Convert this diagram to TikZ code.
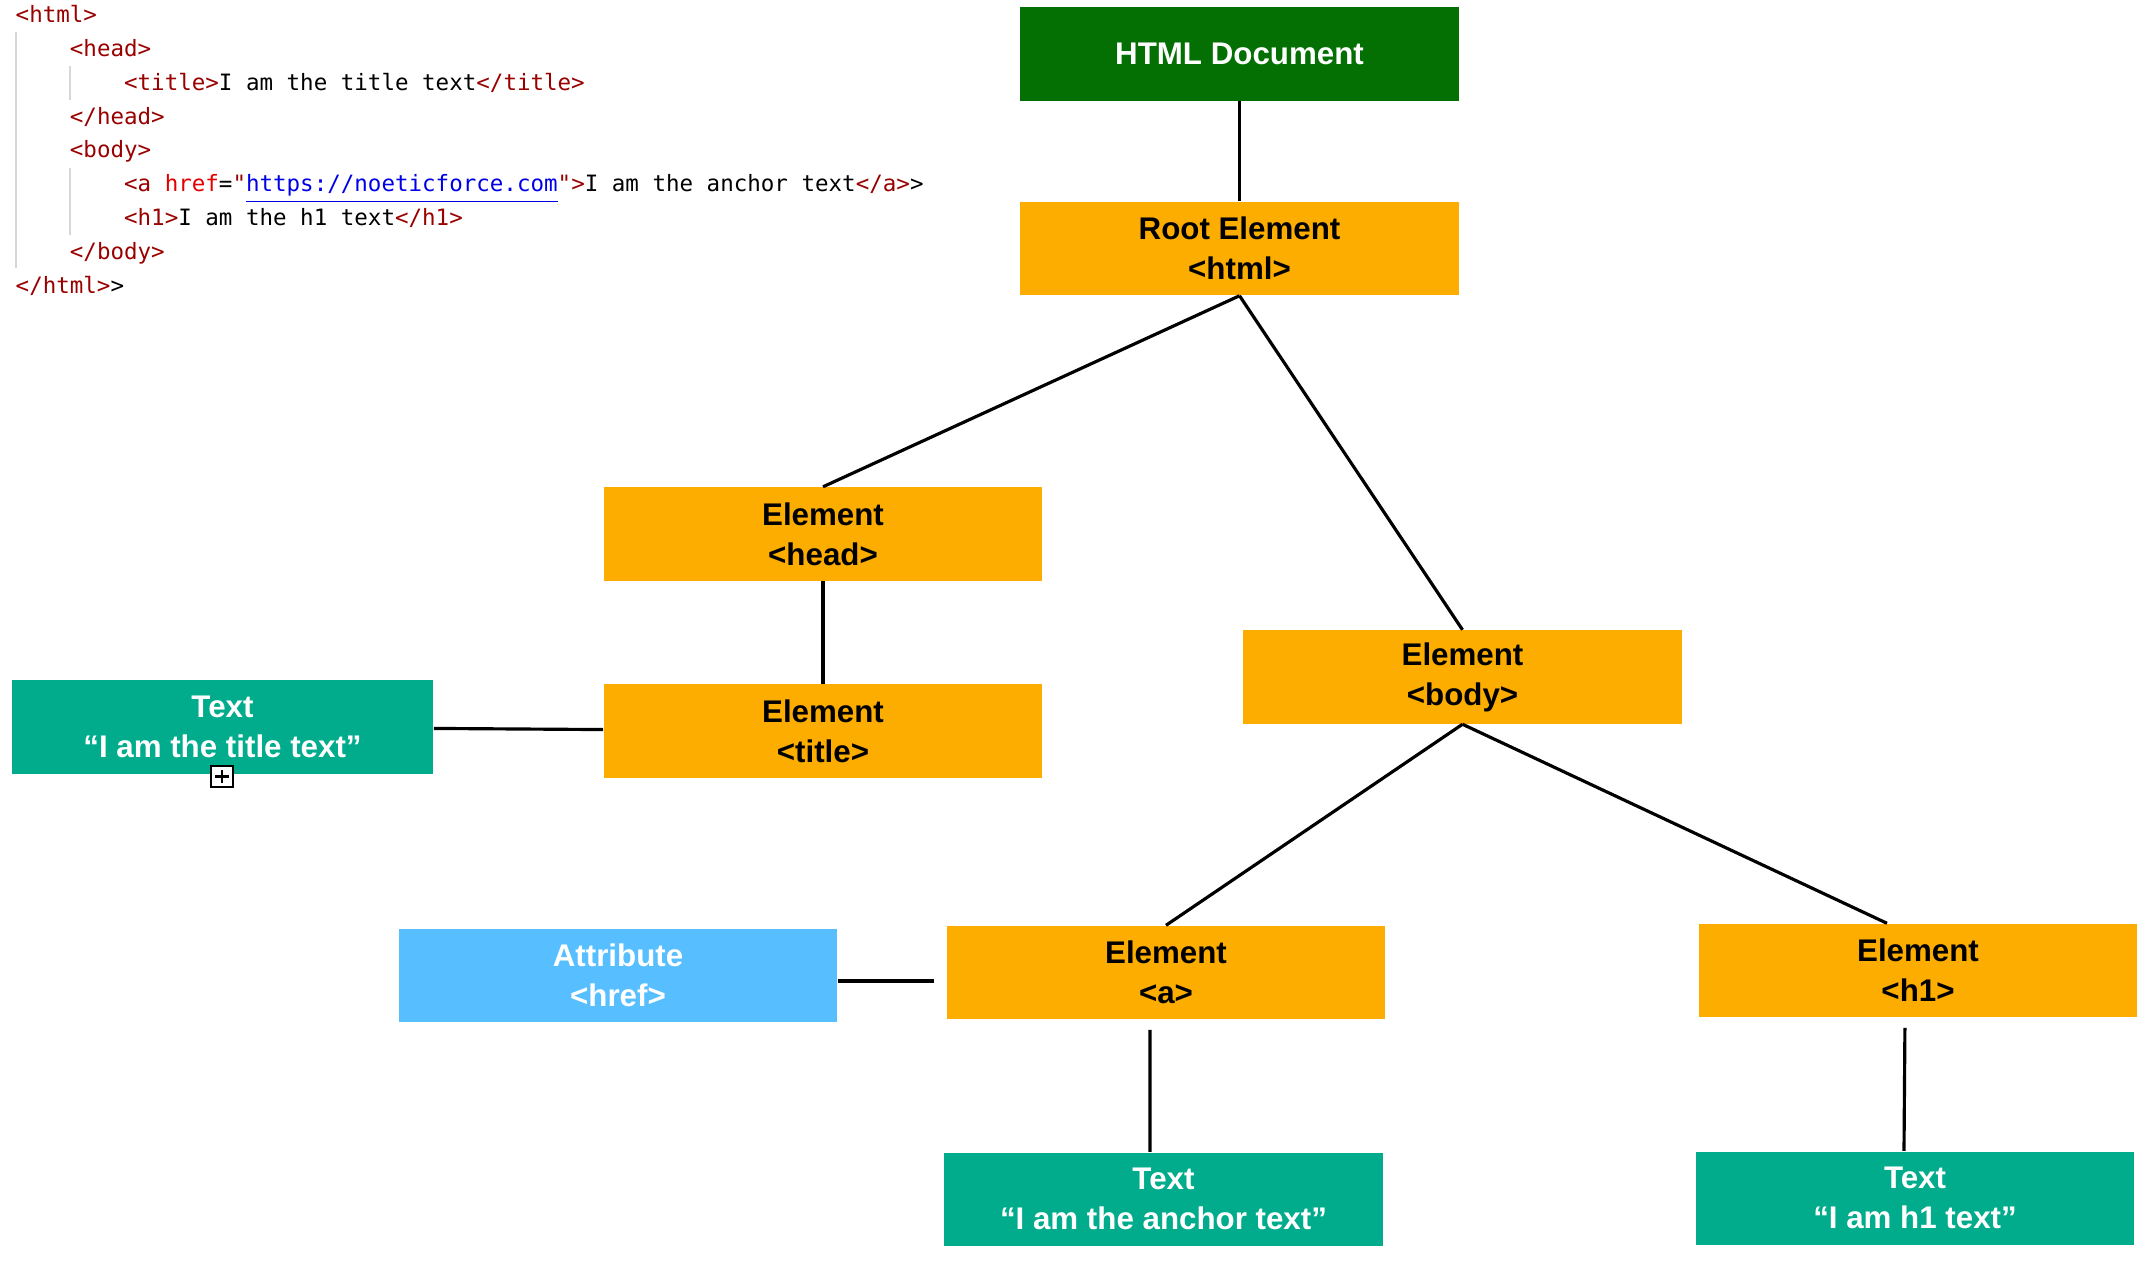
\documentclass[tikz,border=0pt]{standalone}
\usepackage{fontspec}
\setmainfont{Liberation Sans}
\newfontfamily\codefont{DejaVu Sans Mono}

\definecolor{docgreen}{RGB}{4,112,4}
\definecolor{elemorange}{RGB}{252,173,0}
\definecolor{textteal}{RGB}{0,172,140}
\definecolor{attrblue}{RGB}{87,191,255}
\definecolor{tagred}{RGB}{153,0,0}
\definecolor{hrefred}{RGB}{229,0,0}
\definecolor{urlblue}{RGB}{0,0,230}
\definecolor{guidegray}{RGB}{215,215,215}

\tikzset{
  box/.style={rectangle, minimum width=4.38cm, minimum height=0.93cm, inner sep=0pt, align=center, font=\bfseries\fontsize{8.9}{11.4}\selectfont},
  elem/.style={box, fill=elemorange, text=black},
  txt/.style={box, fill=textteal, text=white},
  edge/.style={line width=0.9pt}
}
\newcommand{\tg}[1]{\textcolor{tagred}{#1}}
\newcommand{\ind}{\hphantom{xxxx}}

\begin{document}
\begin{tikzpicture}[x=0.01cm, y=-0.01cm]
			\useasboundingbox (0,0) rectangle (2148,1262);
			
			% Source code
			\node[anchor=north west, inner sep=0pt, align=left, font=\codefont\fontsize{6.4}{9.6}\selectfont] (code) at (15,5) {%
				\tg{<html>}\\
				\ind\tg{<head>}\\
				\ind\ind\tg{<title>}I am the title text\tg{</title>}\\
				\ind\tg{</head>}\\
				\ind\tg{<body>}\\
				\ind\ind\tg{<a} \textcolor{hrefred}{href}=\tg{"}\textcolor{urlblue}{\underline{https://noeticforce.com}}\tg{">}I am the anchor text\tg{</a>}>\\
				\ind\ind\tg{<h1>}I am the h1 text\tg{</h1>}\\
				\ind\tg{</body>}\\
				\tg{</html>}>};
			\draw[guidegray, line width=0.4pt] (16,32) -- (16,268) (70,66) -- (70,100) (70,168) -- (70,235);
			
			% Tree nodes
			\node[box, fill=docgreen, text=white] (doc) at (1239.5,54) {HTML Document};
			\node[elem] (root) at (1239.5,248.5) {Root Element\\<html>};
			\node[elem] (head) at (823,534) {Element\\<head>};
			\node[elem] (title) at (823,731) {Element\\<title>};
			\node[txt, minimum width=4.21cm] (titletext) at (222.5,727) {Text\\“I am the title text”};
			\node[elem] (body) at (1462.5,677) {Element\\<body>};
			\node[box, fill=attrblue, text=white] (attr) at (618,975) {Attribute\\<href>};
			\node[elem] (a) at (1166,972.5) {Element\\<a>};
			\node[elem] (h1) at (1918,970.5) {Element\\<h1>};
			\node[txt] (anchortext) at (1163.5,1199) {Text\\“I am the anchor text”};
			\node[txt] (h1text) at (1915,1198) {Text\\“I am h1 text”};
			
			% Expand icon
			\draw[fill=white, line width=0.6pt] (211,766) rectangle (233,787);
			\draw[line width=0.6pt] (215,776.5) -- (229,776.5) (222,770) -- (222,783);
			
			% Edges
			\draw[edge] (doc) -- (root);
			\draw[edge] (root.south) -- (head.north);
			\draw[edge] (root.south) -- (body.north);
			\draw[edge] (head) -- (title);
			\draw[edge] (titletext) -- (title);
			\draw[edge] (body.south) -- (a.north);
			\draw[edge] (body.south) -- ([xshift=-3.1mm]h1.north);
			\draw[edge] ([yshift=-0.6mm]attr.east) -- ([xshift=-1.2mm,yshift=-0.6mm]a.west |- attr.east);
			\draw[edge, shorten <=1mm] ([xshift=-1.6mm]a.south) -- ([xshift=-1.35mm]anchortext.north);
			\draw[edge, shorten <=1mm] ([xshift=-1.3mm]h1.south) -- ([xshift=-1.1mm]h1text.north);
		\end{tikzpicture}
\end{document}
